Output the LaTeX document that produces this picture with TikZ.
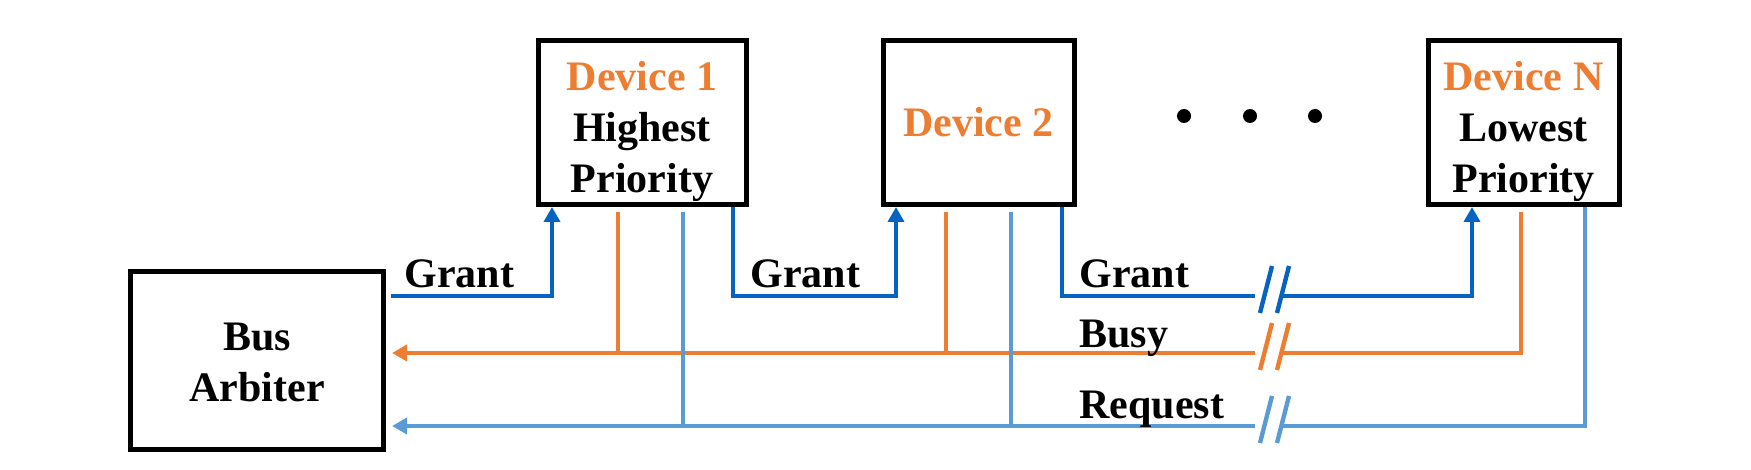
\documentclass[tikz,border=0pt]{standalone}
\usepackage{fontspec}
\setmainfont{Liberation Serif}
\usetikzlibrary{arrows.meta}
\definecolor{gblue}{HTML}{0563C1}
\definecolor{borange}{HTML}{ED7D31}
\definecolor{rblue}{HTML}{5B9BD5}
\begin{document}
\begin{tikzpicture}[x=0.5pt,y=-0.5pt,
  box/.style={draw=black,line width=2.5pt,inner sep=0pt},
  txt/.style={inner sep=0pt,align=center,font=\fontsize{21}{25.5}\selectfont\bfseries},
  lbl/.style={font=\fontsize{21}{26}\selectfont\bfseries,inner sep=0pt,anchor=base west},
  sig/.style={line width=2.2pt},
  tip/.style={-{Triangle[length=7.5pt,width=8pt]}}
]
\useasboundingbox (0,0) rectangle (1751,470);

\node[box,minimum width=126.5pt,minimum height=89pt] (arb) at (257,360.5) {};
\node[txt] (arbt) at ([yshift=-1pt]arb.center) {Bus\\Arbiter};
\node[box,minimum width=104pt,minimum height=82pt] (d1) at (642,122.5) {};
\node[txt] (d1t) at ([yshift=-4.5pt]d1.center) {\textcolor{borange}{Device 1}\\Highest\\Priority};
\node[box,minimum width=95.5pt,minimum height=82pt] (d2) at (978.5,122.5) {};
\node[txt] (d2t) at (d2.center) {\textcolor{borange}{Device 2}};
\node[box,minimum width=95.5pt,minimum height=82pt] (dn) at (1523.5,122.5) {};
\node[txt] (dnt) at ([yshift=-4.5pt]dn.center) {\textcolor{borange}{Device N}\\Lowest\\Priority};

% dots
\fill (1184,116) circle[radius=7];
\fill (1250,116) circle[radius=7];
\fill (1315,116) circle[radius=7];

% Grant chain
\coordinate (gA) at (391,296);
\draw[sig,gblue,tip] (gA) -- (552,296) -- (552,296 |- d1.south);
\draw[sig,gblue,tip] (733,296 |- d1.south) -- (733,296) -- (896,296) -- (896,296 |- d2.south);
\draw[sig,gblue] (1062,296 |- d2.south) -- (1062,296) -- (1255,296);
\draw[sig,gblue,tip] (1281,296) -- (1472,296) -- (1472,296 |- dn.south);

% Busy
\coordinate (bA) at (392,353);
\draw[sig,borange] (1521,212) -- (1521,353) -- (1281,353);
\draw[sig,borange,tip] (1255,353) -- (bA);
\draw[sig,borange] (618,212) -- (618,353);
\draw[sig,borange] (946,212) -- (946,353);

% Request
\coordinate (rA) at (392,426);
\draw[sig,rblue] (1585,296 |- dn.south) -- (1585,426) -- (1281,426);
\draw[sig,rblue,tip] (1255,426) -- (rA);
\draw[sig,rblue] (683,212) -- (683,426);
\draw[sig,rblue] (1011,212) -- (1011,426);

% break marks
\foreach \yy/\cc in {296/gblue,353/borange,426/rblue}{
  \draw[sig,\cc] (1260,\yy+17) -- (1272,\yy-30);
  \draw[sig,\cc] (1277,\yy+17) -- (1289,\yy-30);
}

% labels
\node[lbl] (l1) at (404,288) {Grant};
\node[lbl] (l2) at (750,288) {Grant};
\node[lbl] (l3) at (1079,288) {Grant};
\node[lbl] (l4) at (1079,347) {Busy};
\node[lbl] (l5) at (1079,418) {Request};
\end{tikzpicture}
\end{document}
